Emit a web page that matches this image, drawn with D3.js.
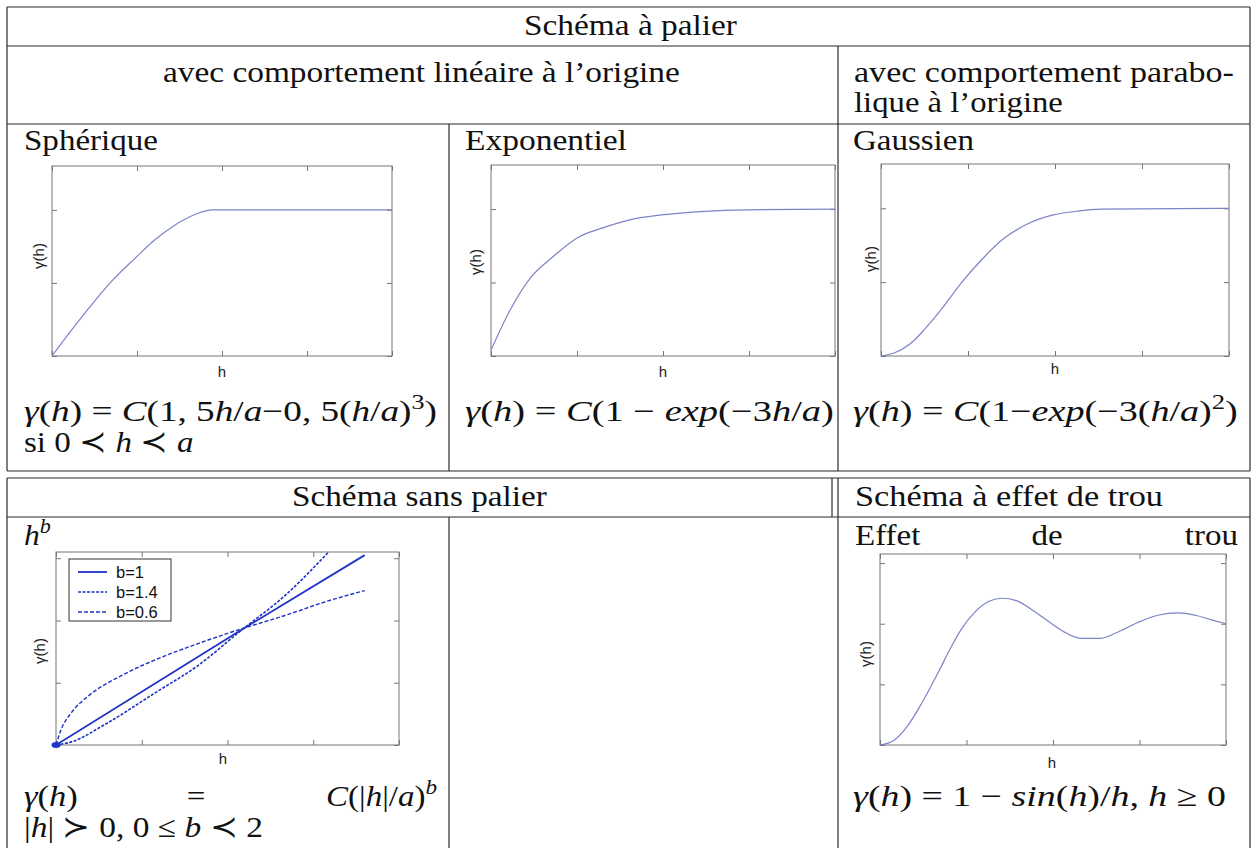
<!DOCTYPE html>
<html><head><meta charset="utf-8">
<script src="https://cdn.jsdelivr.net/npm/d3@7"></script>
<style>body{margin:0;background:#fff}svg{display:block}</style>
</head><body>
<svg id="c" width="1256" height="848"></svg>
<script>
// ---------- data ----------
const sphH = [0, 0.22, 0.41, 0.55, 0.70, 0.98, 1.20, 1.43, 1.69, 1.88, 2.5, 4];
const sphG = [0, 0.17, 0.31, 0.41, 0.51, 0.67, 0.79, 0.89, 0.97, 1.00, 1.00, 1.00];
const expH = [0, 0.22, 0.47, 0.71, 1.02, 1.29, 1.60, 1.98, 2.49, 2.99, 4];
const expG = [0.04, 0.31, 0.54, 0.67, 0.81, 0.87, 0.925, 0.96, 0.985, 0.995, 1.00];
const gauH = [0, 0.15, 0.37, 0.50, 0.70, 0.93, 1.17, 1.40, 1.67, 1.98, 2.25, 2.52, 4];
const gauG = [0.0, 0.02, 0.10, 0.18, 0.32, 0.50, 0.66, 0.79, 0.89, 0.955, 0.98, 0.995, 1.00];
const powB1H = [0, 2.15, 3.6];
const powB1G = [0, 1.84, 3.05];
const powB14H = [0, 0.18, 0.57, 1.17, 1.64, 2.15, 2.67, 3.18];
const powB14G = [0, 0.05, 0.33, 0.85, 1.26, 1.83, 2.40, 3.10];
const powB06H = [0, 0.06, 0.18, 0.38, 0.77, 1.25, 1.68, 2.15, 2.67, 3.14, 3.6];
const powB06G = [0, 0.25, 0.52, 0.79, 1.12, 1.42, 1.64, 1.86, 2.08, 2.30, 2.48];
const holeH = [0, 0.52, 1.02, 1.52, 2.14, 2.64, 3.0, 3.5, 4.0, 4.49, 5.0, 5.62, 6.24, 6.74, 7.36, 8.1, 8.72, 9.46, 10.2, 10.95, 11.57, 12.2, 12.7];
const holeG = [0, 0.04, 0.16, 0.34, 0.60, 0.82, 0.96, 1.10, 1.185, 1.21, 1.19, 1.11, 1.01, 0.935, 0.88, 0.88, 0.93, 1.01, 1.07, 1.09, 1.07, 1.03, 1.00];
const legendLabels = ["b=1", "b=1.4", "b=0.6"];
const ticks4 = [0, 1, 2, 3, 4];
const ticksSill = [0, 0.5, 1];
const ticksPowY = [0, 1, 2, 3];
const ticksHoleX = [0, 3.175, 6.35, 9.525, 12.7];
const ticksHoleY = [0, 0.5, 1, 1.5];

const svg = d3.select("#c");
const SERIF = "Liberation Serif, Times New Roman, serif";
const SANS = "Liberation Sans, Arial, sans-serif";

// ---------- table lines ----------
const lines = svg.append("g").attr("stroke", "#2a2a2a").attr("stroke-width", 1.2).attr("fill", "none");
function L(x1, y1, x2, y2) { lines.append("line").attr("x1", x1).attr("y1", y1).attr("x2", x2).attr("y2", y2); }
// table 1
L(7, 7, 1250, 7); L(7, 46, 1250, 46); L(7, 124, 1250, 124); L(7, 471, 1250, 471);
L(7, 7, 7, 471); L(1250, 7, 1250, 471);
L(838, 46, 838, 471); L(449, 124, 449, 471);
// table 2
L(7, 478, 1250, 478); L(7, 517, 1250, 517);
L(7, 478, 7, 848); L(1250, 478, 1250, 848);
L(832, 478, 832, 517); L(838, 478, 838, 848); L(449, 517, 449, 848);

// ---------- text helper ----------
function build(str, size) {
  const t = svg.append("text").attr("font-family", SERIF).attr("font-size", size).attr("fill", "#111");
  const toks = str.split(/(\^[^^]+\^|\*[^*]+\*)/).filter(s => s.length);
  let up = false;
  toks.forEach(tok => {
    let sup = false, it = false, s = tok;
    if (s[0] === "^") { sup = true; s = s.slice(1, -1); }
    if (s[0] === "*") { it = true; s = s.slice(1, -1); }
    const sp = t.append("tspan").text(s);
    if (it) sp.attr("font-style", "italic");
    if (sup) { sp.attr("font-size", size * 0.7).attr("dy", -size * 0.4); up = true; }
    else if (up) { sp.attr("dy", size * 0.4); up = false; }
  });
  return t;
}
function fit(str, xa, xb, base, size) {
  const t = build(str, size);
  const bb = t.node().getBBox();
  const sx = (xb - xa) / bb.width;
  t.attr("transform", `translate(${xa - bb.x * sx},${base}) scale(${sx},1)`);
}
function put(str, x, base, size, anchor, sx) {
  const t = build(str, size);
  const bb = t.node().getBBox();
  const w = bb.width * sx;
  const xa = anchor === "end" ? x - w : anchor === "middle" ? x - w / 2 : x;
  t.attr("transform", `translate(${xa - bb.x * sx},${base}) scale(${sx},1)`);
}
const FS = 30;
fit("Schéma à palier", 524, 737, 35, FS);
fit("avec comportement linéaire à l’origine", 163, 680, 82, FS);
fit("avec comportement parabo-", 854, 1234, 82, FS);
fit("lique à l’origine", 854, 1063, 112, FS);
fit("Sphérique", 24, 158, 150, FS);
fit("Exponentiel", 465, 627, 150, FS);
fit("Gaussien", 853, 974, 150, FS);
fit("*γ*(*h*) = *C*(1, 5*h*/*a*−0, 5(*h*/*a*)^3^)", 24, 437, 421, FS);
fit("si 0 ≺ *h* ≺ *a*", 24, 192, 452, FS);
fit("*γ*(*h*) = *C*(1 − *exp*(−3*h*/*a*)", 465, 834, 421, FS);
fit("*γ*(*h*) = *C*(1−*exp*(−3(*h*/*a*)^2^)", 853, 1238, 421, FS);
fit("Schéma sans palier", 292, 547, 506, FS);
fit("Schéma à effet de trou", 855, 1163, 506, FS);
put("*h*^*b*^", 24, 545, FS, "start", 1.05);
put("Effet", 855, 545, FS, "start", 1.1);
put("de", 1047, 545, FS, "middle", 1.1);
put("trou", 1238, 545, FS, "end", 1.1);
put("*γ*(*h*)", 24, 806, FS, "start", 1.15);
put("=", 196, 806, FS, "middle", 1.1);
put("*C*(|*h*|/*a*)^*b*^", 437, 806, FS, "end", 1.1);
fit("|*h*| ≻ 0, 0 ≤ *b* ≺ 2", 24, 262, 837, FS);
fit("*γ*(*h*) = 1 − *sin*(*h*)/*h*, *h* ≥ 0", 853, 1226, 806, FS);

// ---------- charts ----------
function chart(o) {
  const g = svg.append("g");
  const x = d3.scaleLinear().domain(o.xDom).range([o.x0, o.x1]);
  const y = d3.scaleLinear().domain(o.yDom).range([o.y1, o.y0]);
  const axStyle = a => a.tickFormat(() => "").tickSizeOuter(0).tickSizeInner(-5);
  const axes = [
    [d3.axisBottom(x).tickValues(o.xTicks), `translate(0,${o.y1})`],
    [d3.axisTop(x).tickValues(o.xTicks), `translate(0,${o.y0})`],
    [d3.axisLeft(y).tickValues(o.yTicks), `translate(${o.x0},0)`],
    [d3.axisRight(y).tickValues(o.yTicks), `translate(${o.x1},0)`]
  ];
  axes.forEach(([a, tr]) => {
    const ag = g.append("g").attr("transform", tr).call(axStyle(a));
    ag.select(".domain").remove();
    ag.selectAll("line").attr("stroke", "#777");
  });
  g.append("rect").attr("x", o.x0).attr("y", o.y0).attr("width", o.x1 - o.x0).attr("height", o.y1 - o.y0)
    .attr("fill", "none").attr("stroke", "#777").attr("stroke-width", 1);
  const clipId = "clip" + Math.round(o.x0) + "_" + Math.round(o.y0);
  g.append("clipPath").attr("id", clipId).append("rect")
    .attr("x", o.x0).attr("y", o.y0 - 1).attr("width", o.x1 - o.x0).attr("height", o.y1 - o.y0 + 3);
  o.series.forEach(s => {
    const pts = s.h.map((v, i) => [v, s.g[i]]);
    g.append("path").attr("clip-path", `url(#${clipId})`)
      .attr("d", d3.line().x(d => x(d[0])).y(d => y(d[1])).curve(d3.curveMonotoneX)(pts))
      .attr("fill", "none").attr("stroke", s.color).attr("stroke-width", s.w || 1.2)
      .attr("stroke-dasharray", s.dash || null);
  });
  g.append("text").attr("x", o.hx).attr("y", o.hy).attr("text-anchor", "middle")
    .attr("font-family", SANS).attr("font-size", 15).attr("fill", "#222").text("h");
  g.append("text").attr("transform", `translate(${o.ylx},${o.yly}) rotate(-90)`)
    .attr("text-anchor", "middle").attr("font-family", SANS).attr("font-size", 15).attr("fill", "#222").text("γ(h)");
  return { g, x, y };
}
const LIGHT = "#7c84c6";
chart({ x0: 52, x1: 392, y0: 166, y1: 356, xDom: [0, 4], yDom: [0, 1.3], xTicks: ticks4, yTicks: ticksSill,
  ylx: 44, yly: 256, hx: 222, hy: 377,
  series: [{ h: sphH, g: sphG, color: LIGHT }] });
chart({ x0: 491, x1: 835, y0: 165, y1: 356, xDom: [0, 4], yDom: [0, 1.3], xTicks: ticks4, yTicks: ticksSill,
  ylx: 481, yly: 262, hx: 663, hy: 377,
  series: [{ h: expH, g: expG, color: LIGHT }] });
chart({ x0: 881, x1: 1229, y0: 164, y1: 356, xDom: [0, 4], yDom: [0, 1.3], xTicks: ticks4, yTicks: ticksSill,
  ylx: 876, yly: 259, hx: 1055, hy: 374,
  series: [{ h: gauH, g: gauG, color: LIGHT }] });
const BLUE = "#1f33c4";
const pw = chart({ x0: 56, x1: 399, y0: 552, y1: 745, xDom: [0, 4], yDom: [0, 3.1], xTicks: ticks4, yTicks: ticksPowY,
  ylx: 45, yly: 651, hx: 223, hy: 764,
  series: [
    { h: powB1H, g: powB1G, color: BLUE, w: 1.8 },
    { h: powB14H, g: powB14G, color: BLUE, w: 1.6, dash: "3,1.5" },
    { h: powB06H, g: powB06G, color: BLUE, w: 1.4, dash: "4,2" }
  ] });
pw.g.append("ellipse").attr("cx", pw.x(0)).attr("cy", pw.y(0)).attr("rx", 4.5).attr("ry", 3).attr("fill", BLUE);
// legend
const lg = pw.g.append("g");
lg.append("rect").attr("x", 69).attr("y", 559).attr("width", 102).attr("height", 62)
  .attr("fill", "#fff").attr("stroke", "#333").attr("stroke-width", 1);
const dashes = [null, "3,1.5", "4,2"];
const widths = [1.8, 1.6, 1.4];
legendLabels.forEach((lab, i) => {
  const yy = 572 + i * 20;
  lg.append("line").attr("x1", 78).attr("x2", 107).attr("y1", yy).attr("y2", yy)
    .attr("stroke", BLUE).attr("stroke-width", widths[i]).attr("stroke-dasharray", dashes[i]);
  lg.append("text").attr("x", 116).attr("y", yy + 6).attr("font-family", SANS).attr("font-size", 16.5)
    .attr("fill", "#111").text(lab);
});
chart({ x0: 880, x1: 1226, y0: 554, y1: 745, xDom: [0, 12.7], yDom: [0, 1.575], xTicks: ticksHoleX, yTicks: ticksHoleY,
  ylx: 871, yly: 654, hx: 1052, hy: 768,
  series: [{ h: holeH, g: holeG, color: LIGHT }] });
</script>
</body></html>
